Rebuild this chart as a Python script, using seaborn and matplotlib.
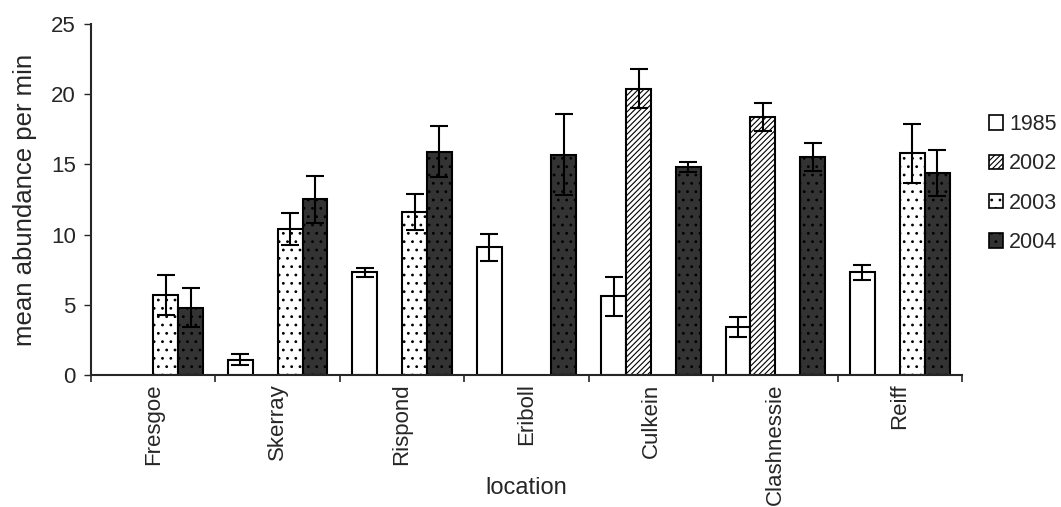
import numpy as np
import pandas as pd
import seaborn as sns
import matplotlib.pyplot as plt
from matplotlib.patches import Patch

# values (mean abundance per min, +/- error)
locations = ['Fresgoe', 'Skerray', 'Rispond', 'Eriboll', 'Culkein', 'Clashnessie', 'Reiff']
years = ['1985', '2002', '2003', '2004']

mean_1985 = [np.nan, 1.1, 7.3, 9.1, 5.6, 3.4, 7.3]
mean_2002 = [np.nan, np.nan, np.nan, np.nan, 20.4, 18.4, np.nan]
mean_2003 = [5.7, 10.4, 11.6, np.nan, np.nan, np.nan, 15.8]
mean_2004 = [4.8, 12.5, 15.9, 15.7, 14.8, 15.5, 14.4]

err_1985 = [np.nan, 0.4, 0.3, 0.95, 1.4, 0.7, 0.55]
err_2002 = [np.nan, np.nan, np.nan, np.nan, 1.4, 1.0, np.nan]
err_2003 = [1.4, 1.15, 1.3, np.nan, np.nan, np.nan, 2.1]
err_2004 = [1.4, 1.7, 1.8, 2.9, 0.35, 1.0, 1.65]

means = {'1985': mean_1985, '2002': mean_2002, '2003': mean_2003, '2004': mean_2004}
errs = {'1985': err_1985, '2002': err_2002, '2003': err_2003, '2004': err_2004}

rows = []
for yr in years:
    for i, loc in enumerate(locations):
        rows.append({'location': loc, 'year': yr, 'abundance': means[yr][i]})
df = pd.DataFrame(rows).dropna()

face = {'1985': 'white', '2002': 'white', '2003': 'white', '2004': '#333333'}
hatches = {'1985': '', '2002': '//////', '2003': '..', '2004': '..'}

sns.set_style('ticks')
plt.rcParams['font.family'] = ['Liberation Sans', 'DejaVu Sans']
plt.rcParams['hatch.linewidth'] = 0.8

fig = plt.figure(figsize=(10.61, 5.07), dpi=100)
ax = fig.add_axes([0.0858, 0.2604, 0.8209, 0.6923])

sns.barplot(data=df, x='location', y='abundance', hue='year', order=locations,
            hue_order=years, palette=face, errorbar=None, edgecolor='black',
            linewidth=1.5, legend=False, ax=ax)

# hatching + error bars per year
for yr, cont in zip(years, ax.containers):
    for bar in cont:
        bar.set_hatch(hatches[yr])
        xc = bar.get_x() + bar.get_width() / 2
        idx = int(round(xc))
        ax.errorbar(xc, bar.get_height(), yerr=errs[yr][idx], fmt='none',
                    ecolor='black', elinewidth=1.5, capsize=6.5, capthick=1.5,
                    zorder=5)

ax.set_xlim(-0.5, 6.5)
ax.set_ylim(0, 25)
ax.set_yticks([0, 5, 10, 15, 20, 25])
ax.tick_params(axis='y', labelsize=16, length=5, width=1, pad=6)
ax.tick_params(axis='x', which='major', length=0, labelsize=16, pad=6, labelrotation=90)
ax.set_xticks(np.arange(-0.5, 7, 1), minor=True)
ax.tick_params(axis='x', which='minor', length=5, width=1.2)

ax.set_ylabel('mean abundance per min', fontsize=18.5, labelpad=10)
ax.set_xlabel('location', fontsize=17)
ax.xaxis.set_label_coords(0.5, -0.29)

sns.despine(ax=ax)
ax.spines['left'].set_linewidth(1.5)
ax.spines['bottom'].set_linewidth(1.5)

handles = [Patch(facecolor=face[y], edgecolor='black', hatch=hatches[y], linewidth=1.2) for y in years]
fig.legend(handles, years, loc='upper left', bbox_to_anchor=(0.932, 0.775),
           frameon=False, fontsize=15.5, handlelength=0.65, handleheight=0.65,
           handletextpad=0.3, labelspacing=0.85, borderpad=0, borderaxespad=0)

fig.savefig('out.png', dpi=100)
